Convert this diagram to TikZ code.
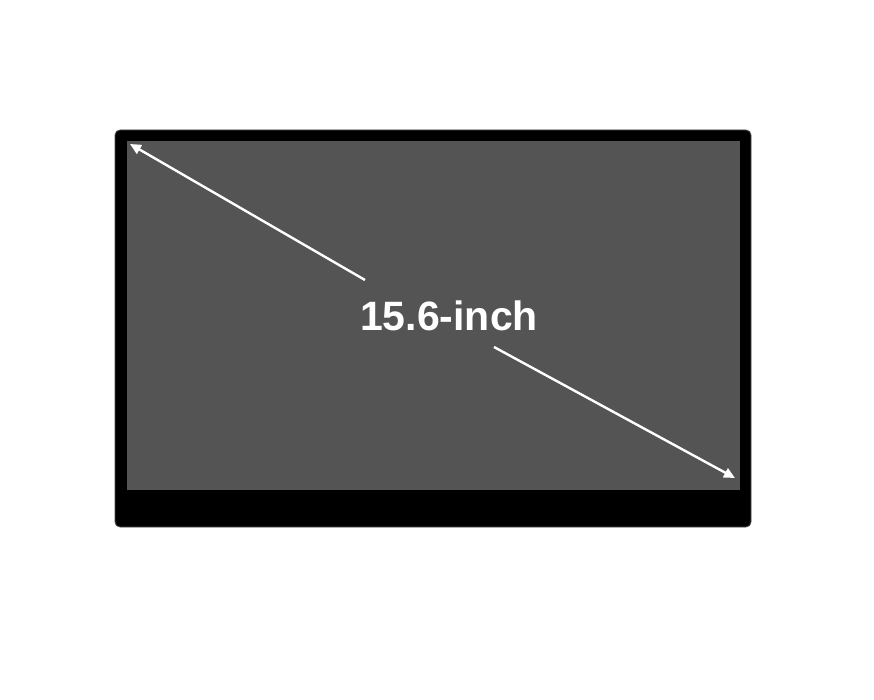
\documentclass[tikz,border=0pt]{standalone}
\usepackage{fontspec}
\usetikzlibrary{arrows.meta}
\newfontfamily\sizefont{Liberation Sans}

\begin{document}
\begin{tikzpicture}[x=1pt,y=-1pt,
    bezel/.style={fill=black,draw=black!70,line width=0.8pt,rounded corners=5pt},
    panel/.style={fill=black!67},
    diag/.style={white,line width=2.4pt,-{Triangle[length=11pt,width=10pt]}}]
      \useasboundingbox (0,0) rectangle (874,700);
      \draw[bezel] (115,130) rectangle (751,527);
      \fill[panel] (127,141) rectangle (740,490);
      \coordinate (tl) at (130,144);
      \coordinate (br) at (735,478);
      \coordinate (gapa) at (365,280);
      \coordinate (gapb) at (494,347);
      \node[text=white,font=\sizefont\bfseries\fontsize{41}{41}\selectfont] (size) at (449,316) {15.6-inch};
      \begin{scope}[line cap=butt]
        \draw[diag] (gapa) to (tl);
        \draw[diag] (gapb) to (br);
      \end{scope}
    \end{tikzpicture}
\end{document}
